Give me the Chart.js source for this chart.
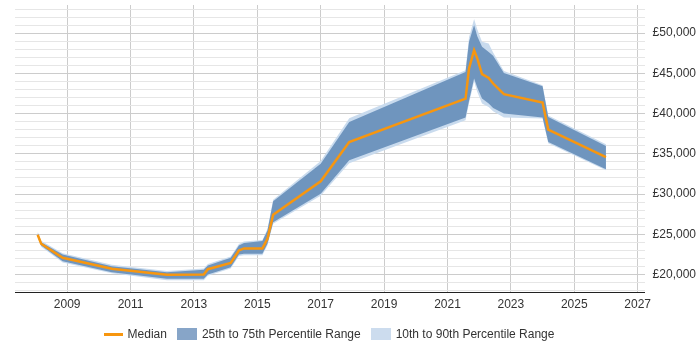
<!DOCTYPE html>
<html>
<head>
<meta charset="utf-8">
<script src="https://cdn.jsdelivr.net/npm/chart.js@4/dist/chart.umd.min.js"></script>
<style>
  body { margin: 0; background: #fff; }
  #wrap { position: relative; width: 700px; height: 350px; }
  #legend {
    position: absolute; left: 15px; width: 628px; top: 327px;
    display: flex; justify-content: center; align-items: center;
    font: 12px "Liberation Sans", Arial, sans-serif; color: #333;
  }
  #legend span.item { display: flex; align-items: center; margin: 0 5px; }
  #legend i { display: inline-block; margin-right: 5px; }
</style>
</head>
<body>
<div id="wrap">
  <canvas id="myChart" width="700" height="350"></canvas>
  <div id="legend">
    <span class="item"><i style="width:19px;height:3px;background:#f7960f"></i>Median</span>
    <span class="item"><i style="width:20px;height:12px;background:#87a5c8"></i>25th to 75th Percentile Range</span>
    <span class="item"><i style="width:20px;height:12px;background:#ccdcee"></i>10th to 90th Percentile Range</span>
  </div>
</div>
<script>
const years = [
    2008.07, 2008.18, 2008.86, 2010.41, 2012.15, 2013.31, 2013.44, 2014.16, 2014.42,
    2014.58, 2015.16, 2015.32, 2015.50, 2017.00, 2017.90, 2021.57, 2021.68, 2021.84,
    2021.94, 2022.09, 2022.30, 2022.44, 2022.78, 2024.00, 2024.18, 2026.00
];
const median = [
    24940, 23820, 22080, 20710, 19960, 20000, 20660, 21450, 22990,
    23240, 23240, 24440, 27430, 31580, 36470, 41870, 45610, 47880,
    46850, 44900, 44440, 43740, 42410, 41370, 38010, 34600
];
const p75 = [
    25190, 24020, 22490, 21030, 20290, 20580, 21120, 22080, 23610,
    23900, 24150, 25480, 29090, 33780, 38960, 45180, 48920, 51000,
    49600, 48300, 47670, 47200, 45060, 43400, 39580, 35970
];
const p25 = [
    24730, 23610, 21660, 20290, 19460, 19460, 20000, 20910, 22490,
    22580, 22580, 23820, 26510, 30050, 34190, 39510, 41610, 44360,
    43240, 41870, 41250, 40690, 40000, 39510, 36470, 33070
];
const p90 = [
    25350, 24200, 22650, 21200, 20450, 20750, 21300, 22250, 23800,
    24100, 24300, 25650, 29300, 34100, 39420, 45400, 49500, 51750,
    50500, 48920, 48720, 47600, 45310, 43530, 39750, 36180
];
const p10 = [
    24600, 23450, 21500, 20150, 19300, 19300, 19850, 20750, 22300,
    22400, 22400, 23650, 26300, 29800, 33820, 39170, 41300, 44000,
    42700, 41250, 40830, 40290, 39510, 39380, 36300, 32950
];
const xTicks = [2009, 2011, 2013, 2015, 2017, 2019, 2021, 2023, 2025, 2027];
// minor grid every £1,000, labelled every £5,000
const yTicks = [
    18000, 19000, 20000, 21000, 22000, 23000, 24000, 25000, 26000, 27000,
    28000, 29000, 30000, 31000, 32000, 33000, 34000, 35000, 36000, 37000,
    38000, 39000, 40000, 41000, 42000, 43000, 44000, 45000, 46000, 47000,
    48000, 49000, 50000, 51000, 52000, 53000
];

function pts(vals) {
    return vals.map((v, i) => ({ x: years[i], y: v }));
}

function money(v) {
    return '£' + String(v).replace(/\B(?=(\d{3})+(?!\d))/g, ',');
}

const band = { pointRadius: 0, borderWidth: 0, tension: 0 };

const config = {
    type: 'line',
    data: {
        datasets: [
            { label: 'Median', data: pts(median), borderColor: '#f7960f', borderWidth: 2.5,
              pointRadius: 0, fill: false, tension: 0 },
            { label: '25th to 75th Percentile Range', data: pts(p75), fill: '+1',
              backgroundColor: '#6f95be', borderColor: '#6f95be', ...band },
            { label: 'p25', data: pts(p25), fill: false, borderColor: '#6f95be', ...band },
            { label: '10th to 90th Percentile Range', data: pts(p90), fill: '+1',
              backgroundColor: '#c9dbee', borderColor: '#c9dbee', ...band },
            { label: 'p10', data: pts(p10), fill: false, borderColor: '#c9dbee', ...band }
        ]
    },
    options: {
        animation: false,
        responsive: false,
        layout: { padding: { left: 15, top: 5, right: -4, bottom: 33 } },
        plugins: { legend: { display: false }, tooltip: { enabled: false } },
        scales: {
            x: {
                type: 'linear',
                min: 2007.355,
                max: 2027.22,
                afterBuildTicks: axis => { axis.ticks = xTicks.map(v => ({ value: v })); },
                ticks: {
                    color: '#333', padding: 5,
                    font: { family: '"Liberation Sans", Arial', size: 12 },
                    callback: v => String(v)
                },
                grid: { color: '#cccccc', drawTicks: false },
                border: { color: '#222', width: 1 }
            },
            y: {
                position: 'right',
                min: 17750,
                max: 53500,
                afterBuildTicks: axis => { axis.ticks = yTicks.map(v => ({ value: v })); },
                afterFit: axis => { axis.paddingTop = 0; axis.paddingBottom = 0; },
                ticks: {
                    autoSkip: false, padding: 8,
                    color: '#333',
                    font: { family: '"Liberation Sans", Arial', size: 12 },
                    callback: v => v % 5000 === 0 ? money(v) : ''
                },
                grid: {
                    drawTicks: false,
                    color: ctx => ctx.tick && ctx.tick.value % 5000 === 0 ? '#cccccc' : '#e6e6e6'
                },
                border: { display: false }
            }
        }
    }
};

var myChart = new Chart(document.getElementById('myChart'), config);
</script>
</body>
</html>
